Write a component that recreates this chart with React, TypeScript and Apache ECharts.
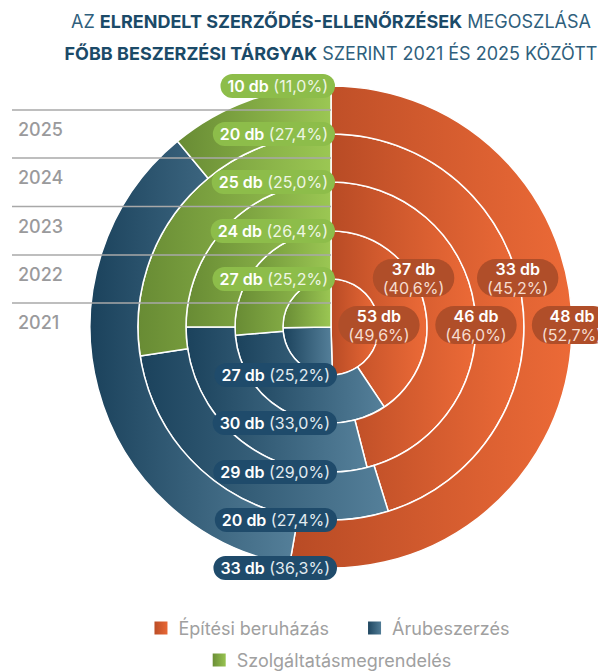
import React, { useEffect, useRef } from 'react';
import * as echarts from 'echarts';

const years = ['2021', '2022', '2023', '2024', '2025'];
const categories = ['Építési beruházás', 'Árubeszerzés', 'Szolgáltatásmegrendelés'];
const epitesi = [53, 37, 46, 33, 48];
const aru = [27, 30, 29, 20, 33];
const szolg = [27, 24, 25, 20, 10];
const epitesiPct = ['49,6', '40,6', '46,0', '45,2', '52,7'];
const aruPct = ['25,2', '33,0', '29,0', '27,4', '36,3'];
const szolgPct = ['25,2', '26,4', '25,0', '27,4', '11,0'];

const FONT = 'Inter, "Noto Sans", sans-serif';
const CX = 331;
const CY = 327;
const innerR = [0, 48, 96, 145, 193];
const outerR = [48, 96, 145, 193, 241];
const orangeDy = [-2, -49, -2, -49, -2];

const grad = (a: string, b: string) => ({
  type: 'linear', x: 0, y: 0, x2: 1, y2: 0,
  colorStops: [{ offset: 0, color: a }, { offset: 1, color: b }],
});

const colOrange = () => grad('#b84b25', '#ec6a37');
const colBlue = () => grad('#1b425c', '#55809a');
const colGreen = () => grad('#688b34', '#9bc753');

export default function App() {
  const ref = useRef<HTMLDivElement>(null);
  useEffect(() => {
    document.body.style.margin = '0';
    const chart = echarts.init(ref.current!, null, { renderer: 'svg' });

    const series = years.map((y, i) => ({
      type: 'pie',
      name: y,
      center: [CX, CY],
      radius: [innerR[i], outerR[i]],
      startAngle: 90,
      clockwise: true,
      silent: true,
      label: { show: false },
      labelLine: { show: false },
      emphasis: { disabled: true },
      itemStyle: { borderColor: '#ffffff', borderWidth: 1.5 },
      data: [
        { name: categories[0], value: epitesi[i], itemStyle: { color: colOrange() } },
        { name: categories[1], value: aru[i], itemStyle: { color: colBlue() } },
        { name: categories[2], value: szolg[i], itemStyle: { color: colGreen() } },
      ],
    }));

    const graphics: any[] = [];
    years.forEach((y, i) => {
      const mid = (innerR[i] + outerR[i]) / 2;
      const ly = CY - mid;
      graphics.push({
        type: 'line', z: 100,
        shape: { x1: 12, y1: ly, x2: CX, y2: ly },
        style: { stroke: '#a8a8a8', lineWidth: 1.5 },
      });
      graphics.push({
        type: 'text', z: 100, x: 18, y: ly + 19.5,
        style: { text: y, fill: '#9a9a9c', fontSize: 18, fontWeight: 500, fontFamily: FONT, align: 'left', verticalAlign: 'middle' },
      });
    });
    const pill = (x: number, y: number, text: string, bg: string, align: string, sub: string, lh: number) => ({
      type: 'text', z: 120, x, y,
      style: {
        text, align, verticalAlign: 'middle',
        fontSize: 16, fontFamily: FONT, fill: '#fff',
        backgroundColor: bg, borderRadius: 12, padding: [3, 7, 3, 7],
        rich: {
          b: { fontSize: 16, fontWeight: 600, fill: '#ffffff', fontFamily: FONT, lineHeight: lh },
          n: { fontSize: 16, fontWeight: 'normal', fill: sub, fontFamily: FONT, lineHeight: lh },
        },
      },
    });
    years.forEach((y, i) => {
      graphics.push(pill(CX + 4, CY - outerR[i], `{b|${szolg[i]} db} {n|(${szolgPct[i]}%)}`, '#8dbd4a', 'right', '#eef6e4', 18));
      graphics.push(pill(CX + 6, CY + outerR[i], `{b|${aru[i]} db} {n|(${aruPct[i]}%)}`, '#1f4b6b', 'right', '#e2ebf1', 18));
      const dy = orangeDy[i];
      const dx = Math.sqrt(outerR[i] * outerR[i] - dy * dy);
      const o: any = pill(CX + dx, CY + dy, `{b|${epitesi[i]} db}\n{n|(${epitesiPct[i]}%)}`, '#b04e29', 'center', '#f6dccf', 19);
      o.style.borderRadius = 19;
      o.style.padding = [0, 10, 0, 10];
      graphics.push(o);
    });

    const option: any = {
      animation: false,
      title: {
        left: 'center', top: 0,
        text: '{n|AZ }{b|ELRENDELT SZERZŐDÉS-ELLENŐRZÉSEK}{n| MEGOSZLÁSA}\n{b|FŐBB BESZERZÉSI TÁRGYAK}{n| SZERINT 2021 ÉS 2025 KÖZÖTT}',
        textStyle: {
          fontFamily: FONT, fontSize: 18, lineHeight: 32,
          rich: {
            b: { fontFamily: FONT, fontSize: 18, fontWeight: 'bold', color: '#1b4a68', lineHeight: 32 },
            n: { fontFamily: FONT, fontSize: 18, fontWeight: 'normal', color: '#2f5f7d', lineHeight: 32 },
          },
        },
      },
      legend: [
        {
          left: 'center', top: 614, selectedMode: false,
          data: [categories[0], categories[1]],
          itemWidth: 15, itemHeight: 15, itemGap: 37, icon: 'rect',
          textStyle: { color: '#a0a0a0', fontSize: 18, fontFamily: FONT, padding: [0, 0, 0, 5] },
        },
        {
          left: 'center', top: 646, selectedMode: false,
          data: [categories[2]],
          itemWidth: 15, itemHeight: 15, icon: 'rect',
          textStyle: { color: '#a0a0a0', fontSize: 18, fontFamily: FONT, padding: [0, 0, 0, 5] },
        },
      ],
      series,
      graphic: graphics,
    };
    chart.setOption(option);
    return () => chart.dispose();
  }, []);
  return (
    <div style={{ width: 598, height: 671, overflow: 'hidden', position: 'relative' }}>
      <div ref={ref} style={{ width: 662, height: 671 }} />
    </div>
  );
}
